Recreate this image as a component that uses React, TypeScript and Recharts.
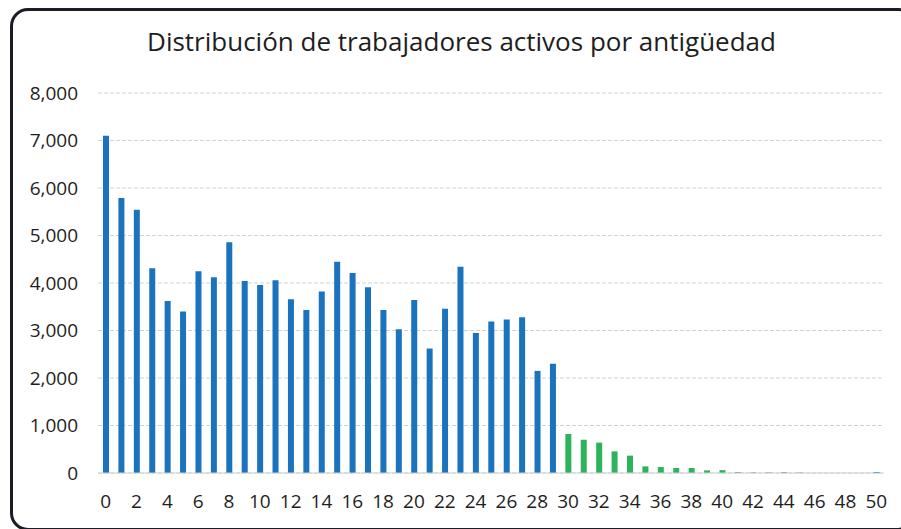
import { BarChart, Bar, XAxis, YAxis, CartesianGrid, Cell } from 'recharts';

const years = [
  0, 1, 2, 3, 4, 5, 6, 7, 8, 9, 10, 11, 12, 13, 14, 15, 16, 17, 18, 19, 20, 21, 22, 23, 24, 25,
  26, 27, 28, 29, 30, 31, 32, 33, 34, 35, 36, 37, 38, 39, 40, 41, 42, 43, 44, 45, 46, 47, 48, 49, 50,
];

const workers = [
  7100, 5790, 5540, 4310, 3620, 3400, 4250, 4120, 4860, 4040, 3960, 4060, 3660, 3430, 3820, 4450,
  4210, 3910, 3430, 3025, 3640, 2620, 3460, 4340, 2950, 3190, 3230, 3280, 2150, 2300, 820, 700, 640,
  455, 365, 140, 125, 105, 105, 55, 60, 15, 10, 10, 15, 8, 0, 0, 0, 0, 20,
];

const yTicks = [0, 1000, 2000, 3000, 4000, 5000, 6000, 7000, 8000];

const title = 'Distribución de trabajadores activos por antigüedad';

const data = years.map((y, i) => ({ year: y, value: workers[i] }));

const BLUE = '#1a73bc';
const GREEN = '#2db35c';

function barColor(year: number) {
  return year >= 30 && year <= 40 ? GREEN : BLUE;
}

export default function App() {
  return (
    <div style={{ position: 'fixed', left: 0, top: 0, width: 901, height: 529, background: '#fff' }}>
      <div
        style={{
          position: 'absolute',
          left: 10,
          top: 8,
          width: 900,
          height: 517,
          border: '3px solid #1c1c28',
          borderRadius: 18,
        }}
      />
      <div
        style={{
          position: 'absolute',
          left: 0,
          width: 923,
          top: 23,
          textAlign: 'center',
          fontFamily: '"Open Sans", sans-serif',
          fontSize: 26,
          color: '#1e1e1e',
        }}
      >
        {title}
      </div>
      <div style={{ position: 'absolute', left: 0, top: 0 }}>
        <BarChart
          width={901}
          height={529}
          data={data}
          margin={{ top: 93, right: 17, left: 0, bottom: 0 }}
          barCategoryGap={0}
        >
          <CartesianGrid vertical={false} stroke="#d2d2d2" strokeDasharray="4 2" />
          <XAxis
            dataKey="year"
            height={56}
            interval={1}
            axisLine={{ stroke: '#cfcfcf' }}
            tickLine={false}
            tickSize={0}
            tickMargin={22}
            tick={{ fill: '#1e1e1e', fontSize: 19, fontFamily: '"Open Sans", sans-serif' }}
          />
          <YAxis
            width={98}
            domain={[0, 8000]}
            ticks={yTicks}
            axisLine={false}
            tickLine={false}
            tickSize={0}
            tickMargin={20}
            tickFormatter={(v: number) => v.toLocaleString('en-US')}
            tick={{ fill: '#1e1e1e', fontSize: 19, fontFamily: '"Open Sans", sans-serif' }}
          />
          <Bar dataKey="value" barSize={6} isAnimationActive={false}>
            {data.map((d) => (
              <Cell key={d.year} fill={barColor(d.year)} />
            ))}
          </Bar>
        </BarChart>
      </div>
    </div>
  );
}
